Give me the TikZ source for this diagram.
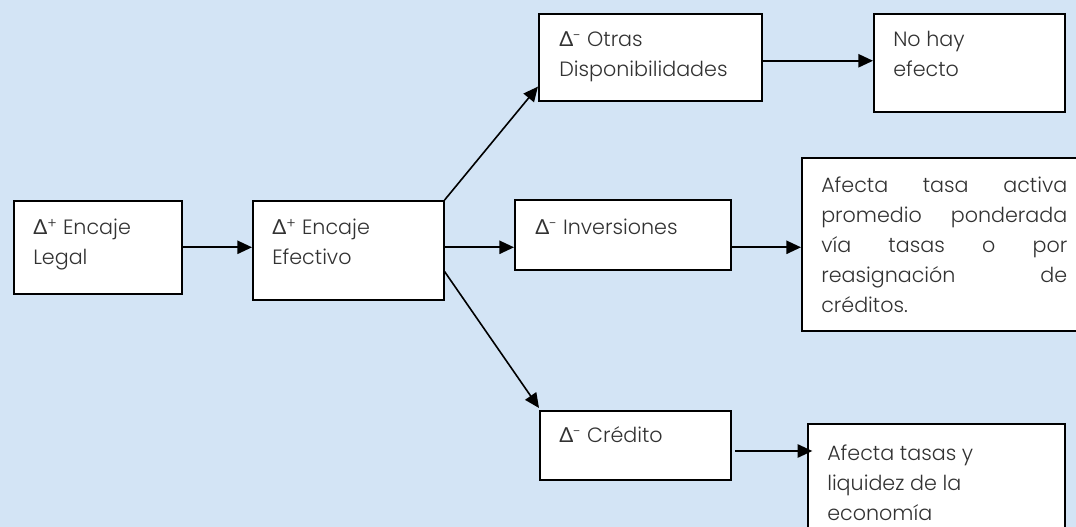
\documentclass[tikz,border=0pt]{standalone}
\usepackage{fontspec}
\setmainfont{Poppins}[UprightFont=* Light]
\newfontfamily\greekfont{Lato}
\usetikzlibrary{arrows.meta,calc}
\definecolor{bgblue}{RGB}{211,228,245}
\definecolor{txt}{RGB}{50,50,50}
\newcommand{\Dl}{{\greekfont Δ}}
\newcommand{\jline}[1]{\makebox[\linewidth]{#1}\\}
\begin{document}
\begin{tikzpicture}[x=0.75pt,y=-0.75pt,
  box/.style={draw=black,line width=1.2pt,fill=white,anchor=north west,inner sep=0pt},
  lbl/.style={anchor=base west,inner sep=0pt,text=txt,font=\fontsize{15.5pt}{22.5pt}\selectfont},
  conn/.style={line width=1.2pt,-{Triangle[length=11pt,width=10pt]}}]
\useasboundingbox (0,0) rectangle (1076,527);
\fill[bgblue] (0,0) rectangle (1076,527);
% boxes
\node[box,minimum width=126pt,minimum height=69.75pt] (b1) at (13,200) {};
\node[box,minimum width=143.25pt,minimum height=74.25pt] (b2) at (252,200) {};
\node[box,minimum width=167.25pt,minimum height=65.25pt] (b3) at (538,13) {};
\node[box,minimum width=143.25pt,minimum height=73.5pt] (b4) at (873,13) {};
\node[box,minimum width=162pt,minimum height=52.5pt] (b5) at (514,199) {};
\node[box,minimum width=216.75pt,minimum height=129.75pt] (b6) at (801,157) {};
\node[box,minimum width=143.25pt,minimum height=51.75pt] (b7) at (539,410) {};
\node[box,minimum width=192.75pt,minimum height=90pt] (b8) at (807,423) {};
% texts
\node[lbl] (t1) at (33,235) {\parbox[t]{120pt}{\Dl\textsuperscript{+} Encaje\\Legal}};
\node[lbl] (t2) at (272,235) {\parbox[t]{130pt}{\Dl\textsuperscript{+} Encaje\\Efectivo}};
\node[lbl] (t3) at (559,47) {\parbox[t]{160pt}{\Dl\textsuperscript{-} Otras\\Disponibilidades}};
\node[lbl] (t4) at (893,47) {\parbox[t]{120pt}{No hay\\efecto}};
\node[lbl] (t5) at (535,235) {\Dl\textsuperscript{-} Inversiones};
\node[lbl] (t6) at (821,193) {\parbox[t]{184.5pt}{%
\jline{Afecta\hfill tasa\hfill activa}%
\jline{promedio\hfill ponderada}%
\jline{vía\hfill tasas\hfill o\hfill por}%
\jline{reasignación\hfill de}%
créditos.}};
\node[lbl] (t7) at (559,443) {\Dl\textsuperscript{-} Crédito};
\node[lbl] (t8) at (827,461) {\parbox[t]{180pt}{Afecta tasas y\\liquidez de la\\economía}};
% connectors
\coordinate (c7) at (735,451);
\draw[conn] (b1.east) -- (b1.east -| b2.west);
\draw[conn] (b2.north east) -- ([yshift=11.25pt]b3.south west);
\draw[conn] (b2.east |- b1.east) -- (b1.east -| b5.west);
\draw[conn] ([yshift=21.75pt]b2.south east) -- ([yshift=1.5pt]b7.north west);
\draw[conn] ([yshift=-2.6pt]b3.east) -- ([yshift=-2.6pt]b3.east -| b4.west);
\draw[conn] (b5.east |- b1.east) -- (b1.east -| b6.west);
\draw[conn] (c7) -- ([xshift=4pt]c7 -| b8.west);
\end{tikzpicture}
\end{document}
